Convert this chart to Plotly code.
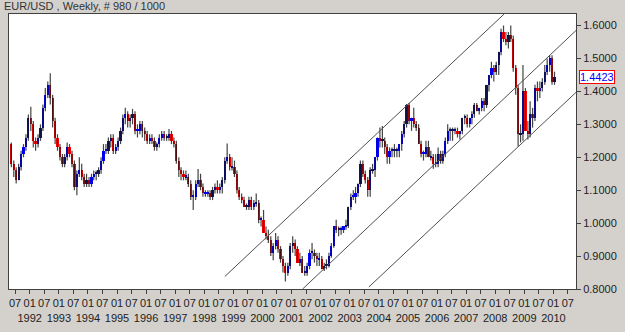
import plotly.graph_objects as go
import pandas as pd

# ---------------- data (monthly OHLC) ----------------
first_month = "1991-05-01"
first_open = 1.24

high = [
    # 1991 May-Dec
    1.245, 1.19, 1.17, 1.18, 1.22, 1.24, 1.27, 1.33,
    # 1992
    1.353, 1.31, 1.26, 1.27, 1.30, 1.36, 1.41, 1.43, 1.455, 1.39, 1.32, 1.27,
    # 1993
    1.24, 1.21, 1.21, 1.245, 1.24, 1.22, 1.19, 1.16, 1.20, 1.18, 1.15, 1.15,
    # 1994
    1.14, 1.15, 1.16, 1.16, 1.17, 1.20, 1.24, 1.24, 1.26, 1.27, 1.27, 1.24,
    # 1995
    1.26, 1.29, 1.33, 1.35, 1.34, 1.33, 1.347, 1.34, 1.30, 1.31, 1.31, 1.29,
    # 1996
    1.28, 1.27, 1.27, 1.26, 1.245, 1.27, 1.28, 1.28, 1.27, 1.286, 1.28, 1.26,
    # 1997
    1.25, 1.20, 1.17, 1.16, 1.16, 1.15, 1.13, 1.10, 1.13, 1.164, 1.15, 1.12,
    # 1998
    1.10, 1.10, 1.10, 1.11, 1.12, 1.13, 1.12, 1.14, 1.20, 1.242, 1.21, 1.20,
    # 1999
    1.19, 1.16, 1.11, 1.09, 1.08, 1.06, 1.08, 1.08, 1.07, 1.09, 1.07, 1.02,
    # 2000
    1.04, 0.99, 0.98, 0.96, 0.94, 0.97, 0.96, 0.93, 0.90, 0.88, 0.88, 0.94,
    # 2001
    0.96, 0.95, 0.93, 0.91, 0.90, 0.87, 0.88, 0.92, 0.94, 0.92, 0.91, 0.91,
    # 2002
    0.90, 0.88, 0.89, 0.91, 0.94, 0.99, 1.01, 0.99, 0.99, 0.99, 1.01, 1.05,
    # 2003
    1.09, 1.10, 1.11, 1.12, 1.19, 1.19, 1.16, 1.14, 1.17, 1.18, 1.20, 1.26,
    # 2004
    1.29, 1.295, 1.26, 1.24, 1.23, 1.23, 1.24, 1.23, 1.24, 1.28, 1.31, 1.362,
    # 2005
    1.365, 1.32, 1.35, 1.31, 1.30, 1.25, 1.22, 1.25, 1.25, 1.22, 1.21, 1.21,
    # 2006
    1.23, 1.22, 1.22, 1.26, 1.30, 1.29, 1.29, 1.29, 1.29, 1.28, 1.32, 1.33,
    # 2007
    1.33, 1.32, 1.34, 1.365, 1.365, 1.35, 1.38, 1.38, 1.42, 1.45, 1.49, 1.48,
    # 2008
    1.49, 1.52, 1.59, 1.60, 1.58, 1.58, 1.60, 1.57, 1.48, 1.42, 1.30, 1.48,
    # 2009
    1.41, 1.31, 1.37, 1.35, 1.42, 1.43, 1.43, 1.44, 1.48, 1.50, 1.51, 1.51,
    # 2010 Jan
    1.46,
]

low = [
    1.17, 1.14, 1.12, 1.13, 1.16, 1.20, 1.22, 1.25,
    1.28, 1.23, 1.22, 1.23, 1.25, 1.28, 1.34, 1.38, 1.36, 1.29, 1.24, 1.22,
    1.19, 1.17, 1.17, 1.19, 1.20, 1.17, 1.10, 1.085, 1.14, 1.13, 1.11, 1.11,
    1.11, 1.11, 1.13, 1.13, 1.14, 1.15, 1.18, 1.21, 1.21, 1.23, 1.21, 1.21,
    1.22, 1.24, 1.27, 1.30, 1.29, 1.29, 1.30, 1.27, 1.26, 1.27, 1.26, 1.25,
    1.24, 1.24, 1.24, 1.22, 1.22, 1.23, 1.25, 1.25, 1.25, 1.25, 1.24, 1.23,
    1.18, 1.14, 1.13, 1.13, 1.13, 1.11, 1.07, 1.04, 1.07, 1.11, 1.10, 1.08,
    1.08, 1.08, 1.07, 1.07, 1.09, 1.09, 1.09, 1.09, 1.12, 1.18, 1.16, 1.16,
    1.14, 1.09, 1.07, 1.06, 1.05, 1.04, 1.04, 1.04, 1.04, 1.05, 1.00, 0.99,
    0.97, 0.95, 0.94, 0.90, 0.887, 0.92, 0.91, 0.88, 0.85, 0.823, 0.84, 0.86,
    0.91, 0.90, 0.88, 0.87, 0.85, 0.84, 0.84, 0.86, 0.89, 0.88, 0.87, 0.87,
    0.86, 0.855, 0.86, 0.865, 0.895, 0.925, 0.97, 0.96, 0.965, 0.97, 0.98, 0.985,
    1.04, 1.07, 1.06, 1.08, 1.11, 1.14, 1.12, 1.08, 1.08, 1.15, 1.14, 1.19,
    1.23, 1.23, 1.21, 1.18, 1.18, 1.20, 1.20, 1.20, 1.20, 1.22, 1.26, 1.29,
    1.30, 1.28, 1.29, 1.28, 1.24, 1.20, 1.19, 1.20, 1.20, 1.19, 1.165, 1.17,
    1.17, 1.18, 1.18, 1.20, 1.24, 1.25, 1.25, 1.27, 1.26, 1.254, 1.27, 1.30,
    1.29, 1.29, 1.30, 1.32, 1.34, 1.33, 1.34, 1.34, 1.35, 1.40, 1.44, 1.43,
    1.45, 1.45, 1.51, 1.55, 1.54, 1.53, 1.55, 1.46, 1.39, 1.233, 1.245, 1.25,
    1.28, 1.254, 1.26, 1.29, 1.31, 1.37, 1.38, 1.40, 1.42, 1.45, 1.46, 1.42,
    1.42,
]

close = [
    1.18, 1.16, 1.13, 1.17, 1.21, 1.23, 1.26, 1.32,
    1.30, 1.25, 1.24, 1.26, 1.29, 1.35, 1.39, 1.42, 1.38, 1.31, 1.26, 1.23,
    1.20, 1.18, 1.20, 1.23, 1.21, 1.18, 1.11, 1.15, 1.16, 1.14, 1.12, 1.13,
    1.12, 1.14, 1.15, 1.15, 1.16, 1.19, 1.22, 1.22, 1.25, 1.26, 1.22, 1.23,
    1.25, 1.28, 1.32, 1.33, 1.31, 1.32, 1.33, 1.28, 1.28, 1.30, 1.28, 1.27,
    1.25, 1.26, 1.25, 1.23, 1.24, 1.26, 1.27, 1.26, 1.26, 1.27, 1.25, 1.24,
    1.19, 1.16, 1.15, 1.14, 1.14, 1.12, 1.08, 1.08, 1.12, 1.13, 1.11, 1.09,
    1.09, 1.09, 1.08, 1.10, 1.11, 1.10, 1.11, 1.13, 1.19, 1.20, 1.17, 1.17,
    1.15, 1.10, 1.08, 1.07, 1.05, 1.05, 1.07, 1.05, 1.06, 1.06, 1.01, 1.01,
    0.97, 0.96, 0.95, 0.91, 0.93, 0.95, 0.92, 0.89, 0.87, 0.85, 0.87, 0.93,
    0.94, 0.92, 0.88, 0.89, 0.85, 0.85, 0.87, 0.91, 0.91, 0.90, 0.89, 0.89,
    0.86, 0.87, 0.87, 0.90, 0.93, 0.99, 0.98, 0.98, 0.98, 0.99, 0.99, 1.05,
    1.08, 1.08, 1.09, 1.12, 1.18, 1.15, 1.13, 1.10, 1.16, 1.16, 1.20, 1.26,
    1.25, 1.25, 1.23, 1.20, 1.22, 1.22, 1.22, 1.22, 1.24, 1.27, 1.30, 1.36,
    1.31, 1.32, 1.30, 1.29, 1.24, 1.21, 1.21, 1.23, 1.20, 1.20, 1.18, 1.18,
    1.21, 1.19, 1.21, 1.25, 1.28, 1.28, 1.28, 1.28, 1.27, 1.28, 1.32, 1.32,
    1.30, 1.32, 1.33, 1.36, 1.34, 1.35, 1.37, 1.36, 1.42, 1.45, 1.47, 1.46,
    1.48, 1.52, 1.58, 1.56, 1.55, 1.57, 1.56, 1.47, 1.41, 1.27, 1.27, 1.40,
    1.28, 1.27, 1.33, 1.32, 1.41, 1.40, 1.41, 1.43, 1.46, 1.48, 1.50, 1.43,
    1.4423,
]

# channel lines (date, price) end points
channel_upper_x = ["1998-09-16", "2008-04-23"]
channel_upper_y = [0.838, 1.635]
channel_mid_x = ["2001-05-20", "2010-10-12"]
channel_mid_y = [0.800, 1.585]
channel_low_x = ["2003-08-29", "2010-10-12"]
channel_low_y = [0.806, 1.397]

price_ticks = [0.8, 0.9, 1.0, 1.1, 1.2, 1.3, 1.4, 1.5, 1.6]
last_price = 1.4423
x_range = ["1991-04-16", "2010-10-12"]
tick_years = list(range(1991, 2011))
title_text = "EUR/USD , Weekly, # 980 / 1000"

# ---------------- build ----------------
months = pd.date_range(first_month, periods=len(close), freq="MS") + pd.Timedelta(days=14)
opens = [first_open] + close[:-1]

body_base = [min(o, c) for o, c in zip(opens, close)]
body_len = [max(abs(c - o), 0.005) for o, c in zip(opens, close)]
body_col = ["#0000ff" if c >= o else "#ff0000" for o, c in zip(opens, close)]

wick_x, wick_y = [], []
for d, h, l in zip(months, high, low):
    wick_x += [d, d, None]
    wick_y += [l, h, None]

fig = go.Figure()

fig.add_trace(go.Bar(x=months, y=body_len, base=body_base,
                     marker=dict(color=body_col, line=dict(width=0)),
                     width=28 * 24 * 3600 * 1000, showlegend=False))
fig.add_trace(go.Scatter(x=wick_x, y=wick_y, mode="lines",
                         line=dict(color="rgba(20,20,20,0.8)", width=1.2),
                         hoverinfo="skip", showlegend=False))

for cx, cy in [(channel_upper_x, channel_upper_y),
               (channel_mid_x, channel_mid_y),
               (channel_low_x, channel_low_y)]:
    fig.add_trace(go.Scatter(x=cx, y=cy, mode="lines",
                             line=dict(color="#505050", width=1),
                             hoverinfo="skip", showlegend=False))

tickvals, ticktext = [], []
for y in tick_years:
    if y > 1991:
        tickvals.append(f"{y}-01-01")
        ticktext.append(f"01<br>{y}")
    tickvals.append(f"{y}-07-01")
    ticktext.append("07")

font_family = "Arial, Liberation Sans, sans-serif"

fig.update_layout(
    width=625, height=332,
    margin=dict(l=8, r=42, t=14, b=33),
    paper_bgcolor="#d4d1cc",
    plot_bgcolor="#ffffff",
    barmode="overlay",
    bargap=0,
    showlegend=False,
    font=dict(family=font_family, size=11, color="#222222"),
    xaxis=dict(type="date", range=x_range, tickvals=tickvals, ticktext=ticktext,
               ticks="outside", ticklen=4, tickcolor="#404040",
               showline=True, linecolor="#404040", linewidth=1, mirror=True,
               showgrid=False, zeroline=False, tickangle=0,
               tickfont=dict(family=font_family, size=11, color="#222222")),
    yaxis=dict(side="right", range=[0.8, 1.635], tickvals=price_ticks,
               ticktext=[f"{v:.4f}" for v in price_ticks],
               ticks="outside", ticklen=4, tickcolor="#404040",
               showline=True, linecolor="#404040", linewidth=1, mirror=True,
               showgrid=False, zeroline=False,
               tickfont=dict(family=font_family, size=11, color="#222222")),
    annotations=[
        dict(text=title_text, xref="paper", yref="paper", x=0, y=1,
             xanchor="left", yanchor="middle", xshift=-7, yshift=8,
             showarrow=False, font=dict(family=font_family, size=11, color="#333333")),
        dict(text=f"{last_price:.4f}", xref="paper", yref="y", x=1, y=last_price,
             xanchor="left", yanchor="middle", xshift=3, showarrow=False,
             bgcolor="#ffffff", bordercolor="#ff0000", borderwidth=1, borderpad=0,
             font=dict(family=font_family, size=11, color="#0000ff")),
    ],
)

fig.write_html("out.html")
